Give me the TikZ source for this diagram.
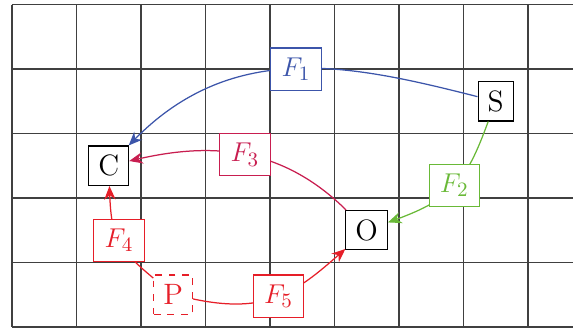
\documentclass[tikz,border=0pt]{standalone}
\usetikzlibrary{arrows.meta}
\definecolor{cFa}{RGB}{60,85,170}
\definecolor{cFb}{RGB}{105,185,55}
\definecolor{cFc}{RGB}{200,30,80}
\definecolor{cFd}{RGB}{230,30,40}
\begin{document}
\begin{tikzpicture}[x=1cm,y=1cm,
  every node/.style={font=\fontsize{13}{15}\selectfont},
  pt/.style={draw, fill=white, line width=0.5pt, minimum height=17.4pt, inner xsep=4.2pt},
  lab/.style={draw, fill=white, line width=0.5pt, minimum height=18.6pt, inner xsep=4.8pt},
  con/.style={line width=0.55pt, -{Stealth[length=6pt,width=5pt]}},
]
\clip (-0.186,-0.031) rectangle (8.70,5.07);
\draw[black!75, line width=0.6pt] (0,0) grid (9,5);
\node[pt] (S) at (7.5,3.5) {S};
\node[pt] (C) at (1.5,2.5) {C};
\node[pt] (O) at (5.5,1.5) {O};
\node[pt, draw=cFd, text=cFd, dashed] (P) at (2.5,0.5) {P};
\draw[con, cFa] (S) .. controls (5.29,4.06) and (3.445,4.475) .. node[lab, pos=0.5] (F1) {$F_1$} (C);
\draw[con, cFb] (S) .. controls (7.05,2.27) and (6.84,1.99) .. node[lab, pos=0.5] (F2) {$F_2$} (O);
\draw[con, cFc] (O) .. controls (4.19,2.79) and (3.11,2.87) .. node[lab, pos=0.5] (F3) {$F_3$} (C);
\draw[con, cFd] (P) .. controls (1.65,1.21) and (1.54,1.38) .. node[lab, pos=0.5] (F4) {$F_4$} (C);
\draw[con, cFd] (P) .. controls (3.95,0.19) and (4.41,0.54) .. node[lab, pos=0.5] (F5) {$F_5$} (O);
\end{tikzpicture}
\end{document}
